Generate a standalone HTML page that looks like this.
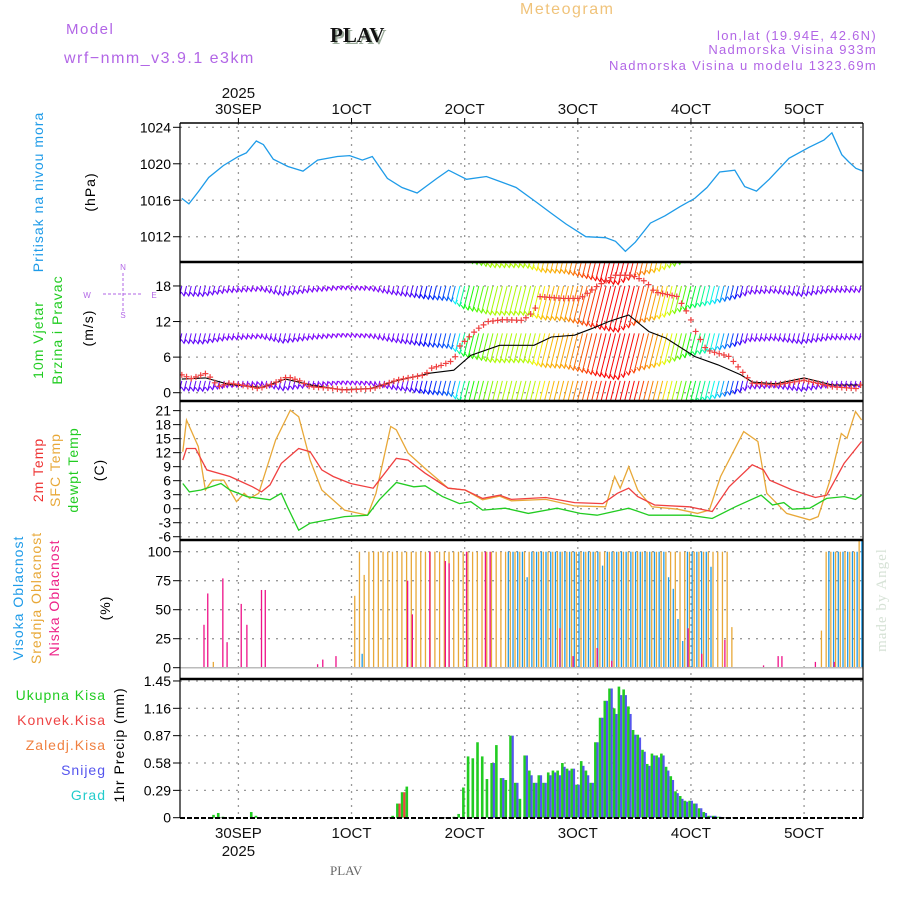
<!DOCTYPE html>
<html><head><meta charset="utf-8"><style>
html,body{margin:0;padding:0;background:#fff;}
svg{display:block;font-family:"Liberation Sans",sans-serif;}
</style></head><body>
<svg id="chart" width="900" height="900" viewBox="0 0 900 900" xmlns="http://www.w3.org/2000/svg">
<defs>
<clipPath id="cpP"><rect x="180" y="123" width="683" height="139"/></clipPath>
<clipPath id="cpW"><rect x="180" y="262" width="683" height="139"/></clipPath>
<clipPath id="cpT"><rect x="180" y="401" width="683" height="139"/></clipPath>
<clipPath id="cpC"><rect x="180" y="540" width="683" height="139"/></clipPath>
<clipPath id="cpR"><rect x="180" y="679" width="683" height="139"/></clipPath>
</defs>
<g font-size="15" letter-spacing="1.5">
<text x="520" y="14" fill="#f0c37a" font-size="16">Meteogram</text>
<text x="66" y="34" fill="#b266e6">Model</text>
<text x="64" y="63" fill="#b266e6" font-size="16">wrf−nmm_v3.9.1 e3km</text>
<text x="330" y="42" fill="#111" font-family="Liberation Serif,serif" font-weight="bold" font-size="21" letter-spacing="0" style="text-shadow:2px 2px 0 #9a9">PLAV</text>
<text x="877" y="40" fill="#b266e6" font-size="13" letter-spacing="1.3" text-anchor="end">lon,lat (19.94E, 42.6N)</text>
<text x="877" y="54" fill="#b266e6" font-size="13" letter-spacing="1.3" text-anchor="end">Nadmorska Visina 933m</text>
<text x="877" y="70" fill="#b266e6" font-size="13" letter-spacing="1.3" text-anchor="end">Nadmorska Visina u modelu 1323.69m</text>
</g>
<g font-size="14" letter-spacing="1">
<text transform="translate(43,192) rotate(-90)" text-anchor="middle" fill="#1e9be8">Pritisak na nivou mora</text>
<text transform="translate(95,192) rotate(-90)" text-anchor="middle" fill="#000">(hPa)</text>
<text transform="translate(43,340) rotate(-90)" text-anchor="middle" fill="#22cc22">10m Vjetar</text>
<text transform="translate(62,330) rotate(-90)" text-anchor="middle" fill="#22cc22">Brzina i Pravac</text>
<text transform="translate(93,328) rotate(-90)" text-anchor="middle" fill="#000">(m/s)</text>
<g fill="#b266e6" font-size="8" letter-spacing="0" text-anchor="middle">
<text x="123" y="270">N</text><text x="87" y="298">W</text><text x="154" y="298">E</text><text x="123" y="318">S</text>
<line x1="103" y1="294" x2="142" y2="294" stroke="#b266e6" stroke-dasharray="3,2"/>
<line x1="123" y1="273" x2="123" y2="312" stroke="#b266e6" stroke-dasharray="3,2"/>
</g>
<text transform="translate(43,470) rotate(-90)" text-anchor="middle" fill="#ee3333">2m Temp</text>
<text transform="translate(60,470) rotate(-90)" text-anchor="middle" fill="#e8a838">SFC Temp</text>
<text transform="translate(78,470) rotate(-90)" text-anchor="middle" fill="#22cc22">dewpt Temp</text>
<text transform="translate(104,470) rotate(-90)" text-anchor="middle" fill="#000">(C)</text>
<text transform="translate(23,598) rotate(-90)" text-anchor="middle" fill="#1e9be8">Visoka Oblacnost</text>
<text transform="translate(41,598) rotate(-90)" text-anchor="middle" fill="#e8a838">Srednja Oblacnost</text>
<text transform="translate(59,598) rotate(-90)" text-anchor="middle" fill="#ee2288">Niska Oblacnost</text>
<text transform="translate(110,608) rotate(-90)" text-anchor="middle" fill="#000">(%)</text>
<g text-anchor="end" font-size="14">
<text x="106" y="700" fill="#22cc22">Ukupna Kisa</text>
<text x="106" y="725" fill="#ee4444">Konvek.Kisa</text>
<text x="106" y="750" fill="#f08040">Zaledj.Kisa</text>
<text x="106" y="775" fill="#5555ee">Snijeg</text>
<text x="106" y="800" fill="#22cccc">Grad</text>
</g>
<text transform="translate(124,745) rotate(-90)" text-anchor="middle" fill="#000">1hr Precip (mm)</text>
</g>
<text transform="translate(886,600) rotate(-90)" text-anchor="middle" fill="#d6e2d6" font-family="Liberation Serif,serif" font-size="15" letter-spacing="1">made by Angel</text>
<text x="330" y="875" fill="#666" font-family="Liberation Serif,serif" font-size="13">PLAV</text>
<g id="plots"></g>
</svg>
<script>
// ---- data ----
const dayLabels = ["30SEP","1OCT","2OCT","3OCT","4OCT","5OCT"];
const dayHours = [12,36,60,84,108,132];
const presTicks = [1012,1016,1020,1024];
const windTicks = [0,6,12,18];
const tempTicks = [-6,-3,0,3,6,9,12,15,18,21];
const cloudTicks = [0,25,50,75,100];
const precipTicks = [0,0.29,0.58,0.87,1.16,1.45];

const presHours = [0,1.5,3.6,5.7,8.8,12,13.7,15.8,17.3,19.4,22.5,25.7,28.8,33,35.6,38.3,40.4,43.6,46.7,49.9,54.1,56.6,60.4,64.6,67.8,70.9,75.2,78.3,81.5,85.7,89.9,92,94.1,96.2,99.4,102.5,105.7,108.8,111.4,114.1,117.3,119.4,121.9,124.6,128.8,133,136.2,137.9,140,141.5,143,144.5];
const presVals = [1016.2,1015.6,1017.0,1018.5,1019.8,1020.8,1021.2,1022.5,1022.1,1020.5,1019.7,1019.2,1020.4,1020.8,1020.9,1020.4,1020.8,1018.4,1017.4,1016.8,1018.4,1019.3,1018.3,1018.6,1018.0,1017.4,1015.8,1014.6,1013.4,1012.0,1011.9,1011.5,1010.4,1011.4,1013.5,1014.3,1015.3,1016.2,1017.4,1019.1,1019.3,1017.5,1017.0,1018.3,1020.6,1021.8,1022.6,1023.4,1021.0,1020.2,1019.5,1019.2];

const windHours = [0,2,5.3,7.7,10,12.6,16.3,19,22.4,25,27.2,31,34.5,40.6,45.5,48,51.6,52.8,55,57.7,58.9,62.5,65,68,72.3,74.7,76,80.8,84.5,88,91.8,95.4,98.5,100.3,105.2,106.4,107.6,108.8,111.3,116.1,118.6,121,125.9,132,138.1,143,144.5];
const windSpeed = [3.0,2.4,3.3,1.0,1.6,1.3,0.7,1.4,2.7,2.0,1.0,0.8,0.45,0.7,2.1,2.5,3.0,4.1,4.6,5.5,7.8,10.6,12.0,12.3,12.2,13.7,16.2,15.9,15.9,17.9,19.8,19.8,18.7,17.0,16.2,14.5,13.1,10.6,7.2,6.1,3.8,1.6,1.3,2.1,1.0,0.7,1.6];
const gustHours = [0,5,10,17,22,28,34,40,45.5,52.8,57.7,61.3,67.4,74.7,78.4,83.3,86.9,90.6,94.8,99.1,102.7,108.8,113.7,118.6,121,126,132,138,144.5];
const gustVals = [2.3,2.5,1.4,0.9,2.3,1.2,0.5,0.7,2.0,3.3,3.8,6.3,8.0,8.0,9.4,9.7,10.8,12.0,13.1,10.3,9.2,6.1,4.7,3.0,1.8,1.5,2.5,1.3,1.3];
const arrowRows = [26,18,10,2];

const t2Hours = [0.2,1,2.9,5.3,10.2,12.6,15,16.9,18.7,21.1,24.8,27.2,29.7,32.1,35.8,40.6,41.9,45.5,48,51.6,56.5,60.1,63.8,67.4,69.9,77.2,83.3,89.3,92.4,94.8,96.7,100.3,107.6,112.5,116.1,121,123.4,124.7,129.5,134.4,136.8,140.5,144.2];
const t2Vals = [10.4,12.9,12.9,8.3,6.9,5.8,4.7,3.6,5.1,9.7,12.9,12.2,8.3,6.9,5.4,4.4,6.1,10.8,10.4,7.6,4.4,4.0,2.2,2.9,2.0,2.4,1.3,1.1,3.3,4.4,2.6,0.8,0.4,-0.6,4.7,9.4,8.3,6.1,4.0,2.4,2.9,9.7,14.4];
const sfcHours = [0.2,1,3.5,5,6.5,8.9,11.6,13.2,14.4,16.3,19.9,23,24.8,27.2,29.7,34.5,39.4,41.2,44.3,45.5,48,51.6,56.5,60.1,63.8,67.4,69.9,77.2,83.3,89.9,91.8,93,94.8,96.7,99.7,105.2,109.4,111.9,114.3,119.2,122.2,124.1,128.3,133.2,135,137.5,139.9,141.1,142.9,144.2];
const sfcVals = [12.2,19.0,13.3,4.0,6.1,6.1,1.5,3.3,2.2,3.3,14.7,21.1,19.7,10.4,4.0,-0.3,-1.4,3.3,17.6,16.9,11.9,8.6,4.4,4.0,1.9,2.7,1.7,2.0,0.6,0.4,6.9,4.4,9.0,4.0,0.4,-0.1,-1.0,-0.3,6.9,16.5,14.4,3.3,-1.0,-2.4,-1.7,6.1,16.1,15.1,20.8,19.0];
const dewHours = [0.2,1.6,4.1,8.3,10.2,13.8,18.7,21.1,22.4,24.8,27.2,34.5,39.4,41.9,45.5,49.2,51.6,55.3,58.9,61.3,63.8,68.6,73.5,79.6,84.5,88.1,94.8,99.1,107.6,112.5,117.4,122.9,125.3,127.7,129.5,133.2,136.8,140.5,142.9,144.2];
const dewVals = [5.4,3.6,4.0,5.4,4.0,2.6,1.9,3.3,0.4,-4.6,-3.1,-1.7,-1.4,1.9,5.6,4.7,4.9,2.6,1.1,1.5,-0.3,0.1,-1.0,0.1,-1.0,-1.4,0.1,-1.4,-1.4,-2.1,0.4,2.9,0.8,1.3,-0.1,0.1,2.2,2.6,2.0,2.9];

// hourly cloud cover, hours 0..144
const highCloud = [0,0,0,0,0,0,0,0,0,0,0,0,0,0,0,0,0,0,0,0,0,0,0,0,0,0,0,0,0,0,0,0,0,0,0,0,0,0,12,0,0,0,0,0,0,0,0,0,0,0,0,0,0,0,0,0,0,0,0,0,0,0,0,0,0,0,0,0,0,100,100,100,100,78,100,100,100,100,100,100,100,100,100,100,100,100,100,100,100,88,100,100,100,100,100,100,100,100,100,100,100,100,100,78,68,42,23,100,100,100,100,100,87,0,0,0,0,0,0,0,0,0,0,0,0,0,0,0,0,0,0,0,0,0,0,0,0,100,100,100,100,100,100,100];
const midCloud = [0,0,0,0,0,0,0,5,0,0,0,0,0,0,0,0,0,0,0,0,0,0,0,0,0,0,0,0,0,0,0,0,0,0,0,0,0,62,100,80,100,100,100,100,100,100,100,100,100,100,100,100,100,100,100,100,100,100,100,100,100,100,100,100,100,100,100,100,100,100,100,100,100,100,100,100,100,100,100,100,100,100,100,100,100,100,100,100,100,100,100,100,100,100,100,100,100,100,100,100,100,100,100,100,100,100,100,100,100,100,100,100,100,100,100,100,100,35,0,0,0,0,0,0,0,0,0,0,0,0,0,0,0,0,0,0,32,100,100,100,100,100,100,100];
const lowHours = [4.7,5.5,8.7,9.6,12.6,13.8,16.9,17.7,28.8,29.9,32.7,47.9,48.9,52.6,55.9,56.7,60.4,64.4,65.4,80.2,83,88.1,91.2,107.4,110.3,115.2,123.4,126.5,127.3,134.4,138.4];
const lowVals = [37,64,77,22,55,37,67,67,3,7,10,75,46,100,92,90,100,100,100,34,10,17,6,34,12,24,2,10,10,5,5];

const precipHours = [7,8,9,15,16,45,46,47,48,58,59,60,61,62,63,64,65,66,67,68,69,70,71,72,73,74,75,76,77,78,79,80,81,82,83,84,85,86,87,88,89,90,91,92,93,94,95,96,97,98,99,100,101,102,103,104,105,106,107,108,109,110,111,112,113,114];
const precipTotal = [0.03,0.05,0.01,0.06,0.02,0.02,0.15,0.27,0.33,0.01,0.04,0.32,0.65,0.63,0.80,0.65,0.41,0.58,0.77,0.42,0.40,0.87,0.37,0.20,0.66,0.50,0.37,0.45,0.37,0.48,0.50,0.50,0.58,0.52,0.52,0.35,0.60,0.50,0.37,0.80,1.06,1.24,1.37,1.16,1.39,1.36,1.18,0.93,0.88,0.72,0.57,0.68,0.66,0.68,0.54,0.44,0.28,0.23,0.18,0.18,0.15,0.10,0.06,0.02,0.02,0.01];
const precipSnow = [0,0,0,0,0,0,0,0,0,0,0,0,0,0,0,0,0,0.58,0,0.42,0,0.87,0.37,0,0.66,0.45,0.37,0.45,0.37,0.45,0.48,0.45,0.54,0.50,0.52,0.35,0.55,0.45,0.37,0.80,1.06,1.24,1.37,1.10,1.30,1.30,1.10,0.88,0.85,0.70,0.55,0.66,0.64,0.66,0.50,0.40,0.26,0.20,0.17,0.18,0.15,0.10,0.05,0.02,0.02,0.01];
const convHours = [46,47];
const convVals = [0.15,0.27];

// ---- axes ----
const X = h => 238.4 + (h - 12) * 4.714;
const YP = p => 127.3 + (1024 - p) * 9.12;
const YW = s => 392.7 - s * 5.93;
const YT = t => 508.7 - t * 4.67;
const YC = c => 667.7 - c * 1.16;
const YR = r => 817.7 - r * 94.3;

const NS = "http://www.w3.org/2000/svg";
const root = document.getElementById("plots");
function mk(tag, attrs, parent) {
  const e = document.createElementNS(NS, tag);
  for (const k in attrs) e.setAttribute(k, attrs[k]);
  (parent || root).appendChild(e);
  return e;
}
function pathOf(hs, vs, Y) {
  return hs.map((h, i) => (i ? "L" : "M") + X(h).toFixed(1) + "," + Y(vs[i]).toFixed(1)).join("");
}
function interp(hs, vs, h) {
  if (h <= hs[0]) return vs[0];
  for (let i = 1; i < hs.length; i++) if (h <= hs[i]) {
    const f = (h - hs[i-1]) / (hs[i] - hs[i-1]); return vs[i-1] + f * (vs[i] - vs[i-1]);
  }
  return vs[vs.length - 1];
}
// colour scale for wind arrows
function windHue(s) {
  const ks = [0, 2.5, 4, 6.3, 8, 10, 12];
  const hs = [275, 262, 210, 120, 78, 30, 0];
  return Math.max(0, interp(ks, hs, s));
}

const panels = [
  {name:"pressure", top:123, bot:262, ticks:presTicks, Y:YP, fmt:v=>String(v)},
  {name:"wind", top:262, bot:401, ticks:windTicks, Y:YW, fmt:v=>String(v)},
  {name:"temperature", top:401, bot:540, ticks:tempTicks, Y:YT, fmt:v=>String(v)},
  {name:"cloud", top:540, bot:679, ticks:cloudTicks, Y:YC, fmt:v=>String(v)},
  {name:"precip", top:679, bot:818, ticks:precipTicks, Y:YR, fmt:v=>v===0?"0":v.toFixed(2)}
];
panels.forEach(p => {
  const g = mk("g", {});
  
  
  dayHours.forEach(h => {
    const l = mk("line", {x1:X(h), x2:X(h), y1:p.top, y2:p.bot, stroke:"#999", "stroke-width":1.3, "stroke-dasharray":"2,5"}, g);
    
    
  });
  p.ticks.forEach(v => {
    const y = p.Y(v);
    const l = mk("line", {x1:180, x2:863, y1:y, y2:y, stroke:"#999", "stroke-width":1.3, "stroke-dasharray":"2,6"}, g);
    
    
    const t = mk("line", {x1:173, x2:180, y1:y, y2:y, stroke:"#000"}, g);
    
    
    const tx = mk("text", {x:171, y:y+5, "text-anchor":"end", "font-size":14, fill:"#000"}, g);
    
    
    tx.textContent = p.fmt(v);
  });
});

// pressure
const pl = mk("path", {d:pathOf(presHours, presVals, YP), fill:"none", stroke:"#1e9be8", "stroke-width":1.3, "clip-path":"url(#cpP)"});



// wind arrows (colour and length follow the black speed line)
const wg = mk("g", {"clip-path":"url(#cpW)"});


for (let h = 0; h <= 144; h++) {
  const s = interp(gustHours, gustVals, h);
  const col = "hsl(" + windHue(s).toFixed(0) + ",95%,50%)";
  const len = 2 + 3.4 * s;
  arrowRows.forEach(r => {
    const x0 = X(h), y0 = YW(r);
    const x1 = x0 - 0.25 * len, y1 = y0 + len;
    const a = mk("path", {d:"M"+x0+","+y0+"L"+x1+","+y1+"M"+(x1-2.5)+","+(y1-3.5)+"L"+x1+","+y1+"L"+(x1+2)+","+(y1-4), stroke:col, "stroke-width":1, fill:"none"}, wg);
    
    
  });
}
const gl = mk("path", {d:pathOf(gustHours, gustVals, YW), fill:"none", stroke:"#000", "stroke-width":1.1, "clip-path":"url(#cpW)"});


const sg = mk("g", {"clip-path":"url(#cpW)"});


for (let h = 0; h <= 144; h++) {
  const x = X(h), y = YW(interp(windHours, windSpeed, h));
  const m = mk("path", {d:"M"+(x-3)+","+y+"h6M"+x+","+(y-3)+"v6", stroke:"#f04040", "stroke-width":1.2}, sg);
  
  
}

// temperatures
[[sfcHours,sfcVals,"#e8a838","sfc-temp-line"],[t2Hours,t2Vals,"#f04040","temp-2m-line"],[dewHours,dewVals,"#22cc22","dewpoint-line"]].forEach(s => {
  const l = mk("path", {d:pathOf(s[0], s[1], YT), fill:"none", stroke:s[2], "stroke-width":1.3, "clip-path":"url(#cpT)"});
  
  
});

// clouds
const cg = mk("g", {"clip-path":"url(#cpC)"});


const cb = YC(0);
for (let h = 0; h <= 144; h++) {
  const x = X(h);
  const bm = mk("line", {x1:x-1.5, x2:x-1.5, y1:cb, y2:YC(midCloud[h]), stroke:"#e8a838", "stroke-width":1.3}, cg);
  
  
  const bh = mk("line", {x1:x+1.2, x2:x+1.2, y1:cb, y2:YC(highCloud[h]), stroke:"#1e9be8", "stroke-width":1.3}, cg);
  
  
}
lowHours.forEach((h, i) => {
  const x = X(h);
  const b = mk("line", {x1:x, x2:x, y1:cb, y2:YC(lowVals[i]), stroke:"#ee1188", "stroke-width":1.3}, cg);
  
  
});
const cz = mk("line", {x1:180, x2:863, y1:cb, y2:cb, stroke:"#bbb", "stroke-width":1.5});



// precipitation
const rg = mk("g", {"clip-path":"url(#cpR)"});


precipHours.forEach((h, i) => {
  const x = X(h);
  const t = mk("rect", {x:x-2.6, y:YR(precipTotal[i]), width:2.6, height:YR(0)-YR(precipTotal[i]), fill:"#22cc22"}, rg);
  
  
  if (precipSnow[i] > 0) {
    const s = mk("rect", {x:x-0.2, y:YR(precipSnow[i]), width:2.2, height:YR(0)-YR(precipSnow[i]), fill:"#5555ee"}, rg);
    
    
  }
});
convHours.forEach((h, i) => {
  const x = X(h);
  const c = mk("rect", {x:x-0.2, y:YR(convVals[i]), width:2.2, height:YR(0)-YR(convVals[i]), fill:"#ee4444"}, rg);
  
  
});

// frames
const fr = mk("g", {});


mk("line", {x1:180, x2:863, y1:123, y2:123, stroke:"#000", "stroke-width":1.5}, fr);
[262,401,540,679].forEach(y => mk("line", {x1:180, x2:863, y1:y, y2:y, stroke:"#000", "stroke-width":2.5}, fr));
mk("line", {x1:180, x2:863, y1:818, y2:818, stroke:"#000", "stroke-width":2, "stroke-dasharray":"5,2"}, fr);
mk("line", {x1:180, x2:180, y1:123, y2:818, stroke:"#000", "stroke-width":1.2}, fr);
mk("line", {x1:863, x2:863, y1:123, y2:818, stroke:"#000", "stroke-width":1.2}, fr);

// x-axis labels
dayHours.forEach((h, i) => {
  const x = X(h);
  const t1 = mk("line", {x1:x, x2:x, y1:118, y2:123, stroke:"#000"});
  
  
  const a = mk("text", {x:x, y:114, "text-anchor":"middle", "font-size":15, fill:"#111"});
  
  
  a.textContent = dayLabels[i];
  const b = mk("text", {x:x, y:838, "text-anchor":"middle", "font-size":15, fill:"#111"});
  
  
  b.textContent = dayLabels[i];
});
const y1 = mk("text", {x:X(12), y:98, "text-anchor":"middle", "font-size":15, fill:"#111"});


y1.textContent = "2025";
const y2 = mk("text", {x:X(12), y:856, "text-anchor":"middle", "font-size":15, fill:"#111"});


y2.textContent = "2025";
</script>
</body></html>
